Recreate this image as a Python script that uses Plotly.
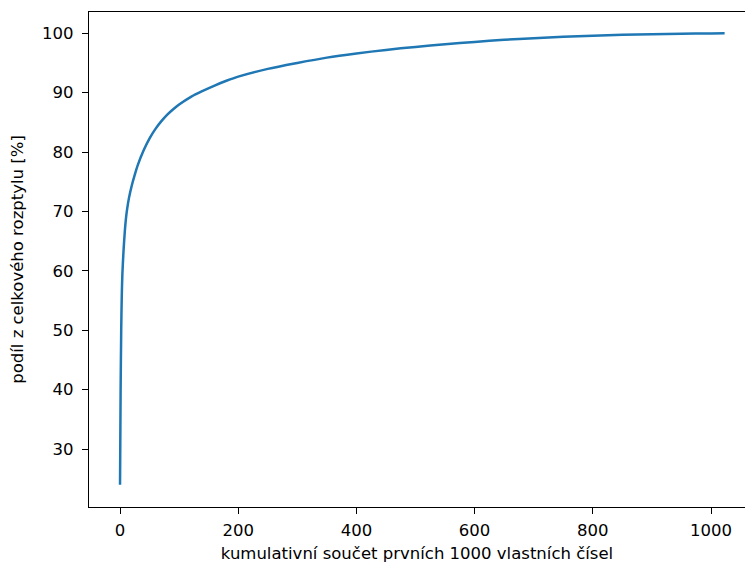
import plotly.graph_objects as go

# number of eigenvalues (x) and cumulative share of total variance in % (y)
components = [0, 1, 2, 3, 4, 6, 8, 10, 12, 15, 20, 25, 30, 40, 50, 60, 70, 80, 90, 100,
              120, 140, 160, 180, 200, 250, 300, 350, 400, 450, 500, 550, 600, 650, 700,
              750, 800, 850, 900, 950, 1000, 1023]
explained = [24.0, 40.0, 50.0, 56.0, 59.5, 63.5, 66.5, 68.8, 70.4, 72.2, 74.4, 76.2, 77.8,
             80.3, 82.3, 83.9, 85.2, 86.3, 87.2, 88.0, 89.3, 90.3, 91.2, 92.0, 92.7, 94.0,
             95.0, 95.9, 96.6, 97.2, 97.7, 98.15, 98.55, 98.9, 99.15, 99.4, 99.6, 99.75,
             99.85, 99.93, 99.98, 100.0]

x_ticks = [0, 200, 400, 600, 800, 1000]
y_ticks = [30, 40, 50, 60, 70, 80, 90, 100]

font = dict(family="DejaVu Sans", size=16.5, color="black")

fig = go.Figure()
fig.add_trace(go.Scatter(x=components, y=explained, mode="lines",
                         line=dict(color="#1f77b4", width=2.5, shape="spline", smoothing=0.8),
                         showlegend=False))

fig.update_layout(
    width=745, height=568,
    margin=dict(l=89, r=0, t=12, b=61),
    paper_bgcolor="white", plot_bgcolor="white",
    font=font,
)
fig.update_xaxes(
    range=[-52.5, 1057.5], tickvals=x_ticks, ticks="outside", ticklen=6, tickwidth=1.3,
    tickcolor="black", showline=True, linecolor="black", linewidth=1.3, mirror=True,
    showgrid=False, zeroline=False, tickfont=font, ticklabelstandoff=2,
    title=dict(text="kumulativní součet prvních 1000 vlastních čísel", font=font, standoff=8),
)
fig.update_yaxes(
    range=[20.24, 103.58], tickvals=y_ticks, ticks="outside", ticklen=6, tickwidth=1.3,
    tickcolor="black", showline=True, linecolor="black", linewidth=1.3, mirror=False,
    showgrid=False, zeroline=False, tickfont=font, ticklabelstandoff=5,
    title=dict(text="podíl z celkového rozptylu [%]", font=font, standoff=14),
)

fig.write_html("out.html")
